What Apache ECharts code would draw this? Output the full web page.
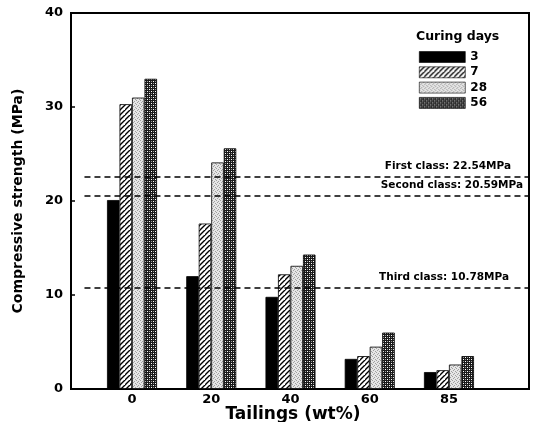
<!DOCTYPE html>
<html><head><meta charset="utf-8">
<script src="https://cdn.jsdelivr.net/npm/echarts@6/dist/echarts.min.js"></script>
<style>html,body{margin:0;padding:0;background:#fff}#c{width:533px;height:422px}</style>
</head><body><div id="c"></div>
<script>
var categories = ['0', '20', '40', '60', '85'];
var seriesNames = ['3', '7', '28', '56'];
var day3  = [20.1, 12.0, 9.8, 3.2, 1.8];
var day7  = [30.3, 17.6, 12.2, 3.5, 2.0];
var day28 = [31.0, 24.1, 13.1, 4.5, 2.6];
var day56 = [33.0, 25.6, 14.3, 6.0, 3.5];
var classNames = ['First class: 22.54MPa', 'Second class: 20.59MPa', 'Third class: 10.78MPa'];
var classValues = [22.54, 20.59, 10.78];

function pat(w, h, draw) {
  var c = document.createElement('canvas'); c.width = w; c.height = h;
  var g = c.getContext('2d'); draw(g, w, h); return c;
}
var hatch = pat(5, 5, function (g, w, h) {
  g.fillStyle = '#fff'; g.fillRect(0, 0, w, h);
  g.strokeStyle = '#000'; g.lineWidth = 1.4;
  g.beginPath();
  g.moveTo(-1, h + 1); g.lineTo(w + 1, -1);
  g.moveTo(-1 - w, h + 1); g.lineTo(1, -1);
  g.moveTo(w - 1, 2 * h + 1); g.lineTo(2 * w + 1, h - 1);
  g.stroke();
});
var dots = pat(4, 4, function (g, w, h) {
  g.fillStyle = '#e6e6e6'; g.fillRect(0, 0, w, h);
  g.fillStyle = '#a0a0a0';
  g.fillRect(0, 0, 1, 1); g.fillRect(2, 1, 1, 1); g.fillRect(1, 2, 1, 1); g.fillRect(3, 3, 1, 1);
});
var cross = pat(4, 4, function (g, w, h) {
  g.fillStyle = '#1a1a1a'; g.fillRect(0, 0, w, h);
  g.fillStyle = '#fff';
  g.fillRect(1, 1, 1, 1); g.fillRect(3, 3, 1, 1);
  g.fillStyle = '#999';
  g.fillRect(3, 1, 1, 1); g.fillRect(1, 3, 1, 1);
});
var fills = ['#000', {image: hatch, repeat: 'repeat'}, {image: dots, repeat: 'repeat'}, {image: cross, repeat: 'repeat'}];
var values = [day3, day7, day28, day56];

var font = 'DejaVu Sans, Liberation Sans, Arial, sans-serif';
var series = values.map(function (vals, si) {
  return {
    name: seriesNames[si], type: 'bar', barWidth: 12.5, barGap: '0%',
    itemStyle: {color: fills[si], borderColor: '#000', borderWidth: 0.8},
    data: vals.map(function (v, i) { return [i, v]; })
  };
});
var labelDist = [[18, 5], [6, 5], [20, 5]];
series.push({
  name: 'classes', type: 'line', data: [], silent: true,
  markLine: {
    symbol: 'none', silent: true,
    lineStyle: {color: '#000', type: [6, 4], width: 1.6},
    label: {position: 'insideEndTop', fontFamily: font, fontWeight: 'bold', fontSize: 10.5, color: '#000',
            formatter: function (p) { return p.name; }},
    data: classValues.map(function (v, i) {
      return [{name: classNames[i], coord: [-0.6, v], label: {distance: labelDist[i]}}, {coord: [5.01, v]}];
    })
  }
});

var chart = echarts.init(document.getElementById('c'));
chart.setOption({
  animation: false,
  grid: {left: 71, right: 4, top: 13, bottom: 33, show: true, borderColor: '#000', borderWidth: 2,
         outerBoundsMode: 'none', containLabel: false},
  legend: {
    orient: 'vertical', left: 414, top: 46, itemWidth: 46, itemHeight: 11, itemGap: 3.3,
    icon: 'rect',
    textStyle: {fontFamily: font, fontWeight: 'bold', fontSize: 12, color: '#000', padding: [0, 0, 0, 0]},
    itemStyle: {borderColor: '#000', borderWidth: 0.6},
    data: seriesNames
  },
  title: {text: 'Curing days', left: 411, top: 25,
          textStyle: {fontFamily: font, fontWeight: 'bold', fontSize: 12.5, color: '#000'}},
  xAxis: {
    type: 'value', min: -0.77, max: 5.01,
    name: 'Tailings (wt%)', nameLocation: 'middle', nameGap: 17, nameMoveOverlap: false,
    nameTextStyle: {fontFamily: font, fontWeight: 'bold', fontSize: 17, color: '#000', padding: [0, 14, 0, 0]},
    axisLine: {onZero: false, lineStyle: {color: '#000', width: 2}},
    axisTick: {show: false}, splitLine: {show: false},
    axisLabel: {customValues: [0, 1, 2, 3, 4], formatter: function (v) { return categories[Math.round(v)]; },
                fontFamily: font, fontWeight: 'bold', fontSize: 13, color: '#000', margin: 4}
  },
  yAxis: {
    type: 'value', min: 0, max: 40, interval: 10,
    name: 'Compressive strength (MPa)', nameLocation: 'middle', nameGap: 46, nameMoveOverlap: false,
    nameTextStyle: {fontFamily: font, fontWeight: 'bold', fontSize: 14, color: '#000'},
    axisLine: {show: true, onZero: false, lineStyle: {color: '#000', width: 2}},
    axisTick: {show: true, inside: true, length: 4, lineStyle: {color: '#000', width: 1.5}},
    splitLine: {show: false},
    axisLabel: {fontFamily: font, fontWeight: 'bold', fontSize: 13, color: '#000', margin: 8}
  },
  series: series
});
</script></body></html>
